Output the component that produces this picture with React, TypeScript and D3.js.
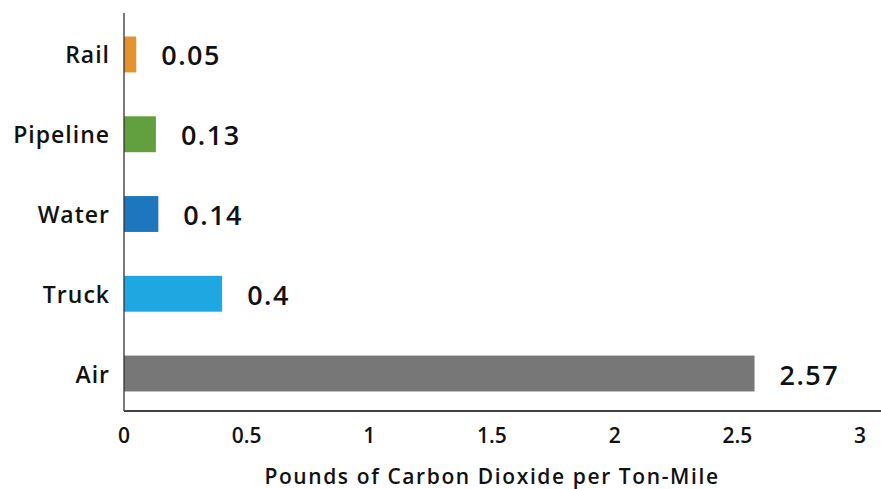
import React from "react";
import * as d3 from "d3";

const categories = ["Rail", "Pipeline", "Water", "Truck", "Air"];
const values = [0.05, 0.13, 0.14, 0.4, 2.57];
const valueLabels = ["0.05", "0.13", "0.14", "0.4", "2.57"];
const colors = ["#E5932E", "#62A03F", "#1D76BE", "#1EA7E0", "#777777"];
const tickValues = [0, 0.5, 1, 1.5, 2, 2.5, 3];
const axisTitle = "Pounds of Carbon Dioxide per Ton-Mile";

const W = 881;
const H = 489;
const FONT = "'Open Sans', 'DejaVu Sans', sans-serif";

export default function App() {
  const x = d3.scaleLinear().domain([0, 3]).range([124, 860]);
  const y = d3
    .scaleBand<string>()
    .domain(categories)
    .range([15, 413])
    .paddingInner(0.55)
    .paddingOuter(0.27);
  const bw = y.bandwidth();

  return (
    <svg
      width={W}
      height={H}
      style={{ position: "absolute", left: 0, top: 0, background: "#fff" }}
      fontFamily={FONT}
    >
      {categories.map((c, i) => {
        const y0 = y(c)!;
        const cy = y0 + bw / 2;
        return (
          <g key={c}>
            <rect
              x={x(0)}
              y={y0}
              width={x(values[i]) - x(0)}
              height={bw}
              fill={colors[i]}
            />
            <text
              x={110}
              y={cy + 9}
              textAnchor="end"
              fontSize={23}
              fontWeight={600}
              letterSpacing={1}
              fill="#111"
            >
              {c}
            </text>
            <text
              x={x(values[i]) + 25}
              y={cy + 11}
              fontSize={27}
              fontWeight={600}
              letterSpacing={1.5}
              fill="#111"
            >
              {valueLabels[i]}
            </text>
          </g>
        );
      })}
      <line x1={x(0)} x2={x(0)} y1={13} y2={411} stroke="#333" strokeWidth={1.3} />
      <line x1={x(0)} x2={W} y1={411} y2={411} stroke="#444" strokeWidth={2} />
      {tickValues.map((t) => (
        <text
          key={t}
          x={x(t)}
          y={443}
          textAnchor="middle"
          fontSize={21}
          fontWeight={600}
          fill="#111"
        >
          {String(t)}
        </text>
      ))}
      <text
        x={(x(0) + x(3)) / 2}
        y={484}
        textAnchor="middle"
        fontSize={21}
        fontWeight={600}
        letterSpacing={1.6}
        fill="#111"
      >
        {axisTitle}
      </text>
    </svg>
  );
}
